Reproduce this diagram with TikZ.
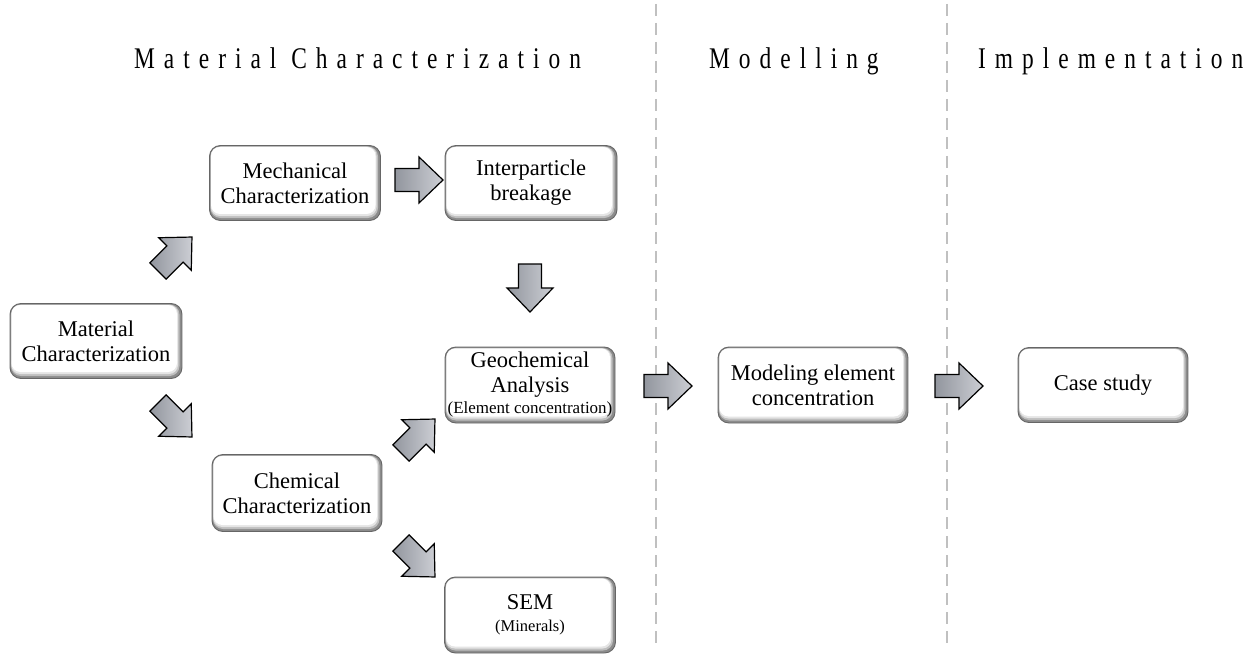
\documentclass[tikz,border=0pt]{standalone}
\usepackage{fontspec}
\setmainfont{Liberation Serif}
\newfontfamily\hdfont[FakeStretch=0.78,LetterSpace=30]{Liberation Serif}
\definecolor{arrL}{RGB}{146,150,158}
\definecolor{arrR}{RGB}{204,206,212}
\definecolor{dashc}{RGB}{192,192,192}
\tikzset{
  box/.style={draw=black!60, line width=0.9pt, rounded corners=11pt,
    minimum width=171pt, minimum height=75pt, align=center, inner sep=0pt,
    font=\fontsize{22.5}{25}\selectfont,
    path picture={
      \fill[black!45] (path picture bounding box.south west) rectangle (path picture bounding box.north east);
      \fill[black!25, rounded corners=10pt] ([shift={(1pt,-1pt)}]path picture bounding box.north west) rectangle ([shift={(-2.5pt,2.5pt)}]path picture bounding box.south east);
      \fill[black!10, rounded corners=9pt] ([shift={(1.3pt,-1.3pt)}]path picture bounding box.north west) rectangle ([shift={(-4pt,4.5pt)}]path picture bounding box.south east);
      \fill[white, rounded corners=9pt] ([shift={(1.5pt,-1.5pt)}]path picture bounding box.north west) rectangle ([shift={(-5pt,6.5pt)}]path picture bounding box.south east);
    }},
  hd/.style={anchor=base west, inner sep=0pt, font=\hdfont\fontsize{30}{32}\selectfont},
  sep/.style={dashc, line width=2pt, dash pattern=on 12pt off 7pt},
  barrow/.pic={\shadedraw[left color=arrL, right color=arrR, draw=black, line width=1.2pt, line join=miter]
     (-24,-11.5) -- (0,-11.5) -- (0,-23) -- (24,0) -- (0,23) -- (0,11.5) -- (-24,11.5) -- cycle;}
}
\begin{document}
\begin{tikzpicture}[x=1pt,y=-1pt]
\useasboundingbox (0,0) rectangle (1255,655);
% separators
\coordinate (s1t) at (656,4); \coordinate (s1b) at (656,646);
\coordinate (s2t) at (947,4); \coordinate (s2b) at (947,646);
\draw[sep] (s1t) -- (s1b);
\draw[sep] (s2t) -- (s2b);
% headers
\node[hd] (h1) at (134,69) {Material Characterization};
\node[hd] (h2) at (709,69) {Modelling};
\node[hd] (h3) at (978,69) {Implementation};
% boxes
\node[box, minimum width=172pt] (mat) at (96,341) {Material\\Characterization};
\node[box] (mech) at (295,183) {Mechanical\\Characterization};
\node[box, minimum width=172pt] (inter) at (531,183) {Interparticle\\breakage};
\node[box, minimum width=170pt, minimum height=76pt] (geo) at (530,385) {Geochemical\\Analysis\\[-4pt]{\fontsize{17}{20}\selectfont (Element concentration)}};
\node[box, minimum width=170pt, minimum height=77pt] (chem) at (297,493) {Chemical\\Characterization};
\node[box, minimum height=76pt] (sem) at (530,615) {SEM\\[-3pt]{\fontsize{16.5}{19}\selectfont (Minerals)}};
\node[box, minimum width=190pt, minimum height=76pt] (model) at (813,385) {Modeling element\\concentration};
\node[box, minimum width=170pt] (case) at (1103,385) {Case study};
% block arrows
\pic at (419,180) {barrow};
\pic[rotate=-90] at (530,288) {barrow};
\pic at (668,386) {barrow};
\pic at (959,386) {barrow};
\pic[rotate=45] at (175,254) {barrow};
\pic[rotate=-45] at (175,420) {barrow};
\pic[rotate=45] at (418,436) {barrow};
\pic[rotate=-45] at (418,560) {barrow};
\end{tikzpicture}
\end{document}
